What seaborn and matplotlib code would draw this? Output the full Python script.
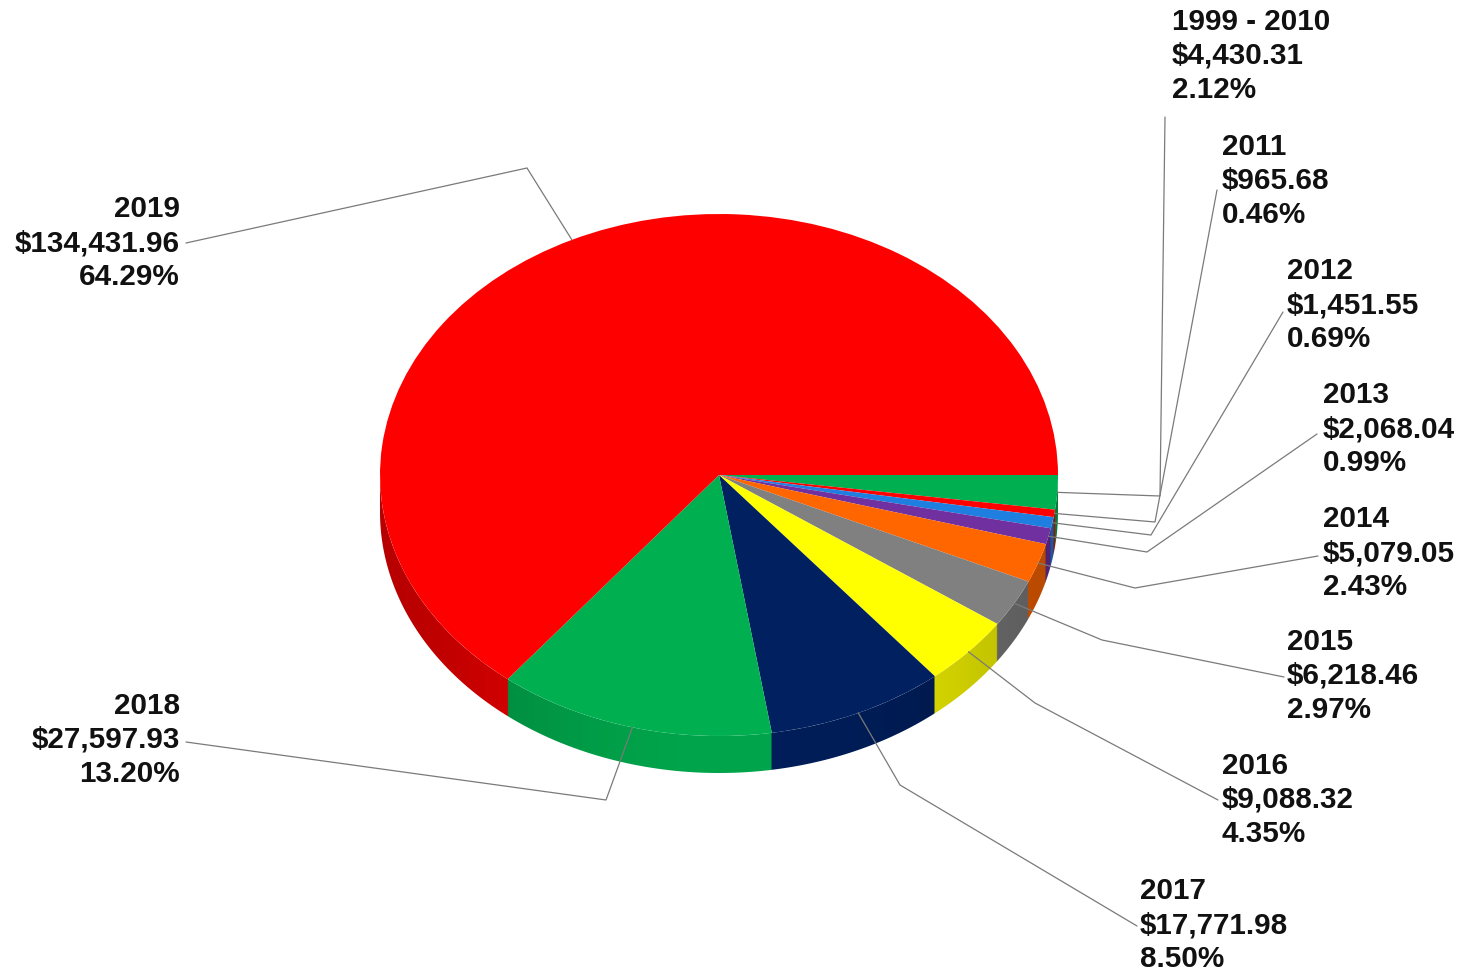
import numpy as np
import matplotlib
matplotlib.use("Agg")
import matplotlib.pyplot as plt
import seaborn as sns
from matplotlib.patches import Polygon
from matplotlib.colors import to_rgb

# ---- data -------------------------------------------------------------
periods = ["1999 - 2010", "2011", "2012", "2013", "2014",
           "2015", "2016", "2017", "2018", "2019"]
amounts = [4430.31, 965.68, 1451.55, 2068.04, 5079.05,
           6218.46, 9088.32, 17771.98, 27597.93, 134431.96]
shares = [2.12, 0.46, 0.69, 0.99, 2.43, 2.97, 4.35, 8.50, 13.20, 64.29]
slice_colors = ["#00B050", "#FF0000", "#1F7FE0", "#7030A0", "#FF6600",
                "#808080", "#FFFF00", "#002060", "#00B050", "#FF0000"]

# ---- layout (pixel space, y measured from the top) ---------------------
W, H = 1462, 974
CX, CY = 719, 475          # centre of the pie's top face
RX, RY = 339, 261          # radii of the tilted top face
DEPTH = 37                 # thickness of the disc
SQ = RY / RX

label_pos = [(1172, 56), (1222, 181), (1287, 305), (1323, 429), (1323, 553),
             (1287, 676), (1222, 800), (1140, 925), (180, 740), (180, 243)]
label_ha = ["left"] * 8 + ["right"] * 2
elbows = [(1160, 496), (1155, 522), (1151, 535), (1147, 552), (1135, 588),
          (1102, 640), (1035, 703), (900, 785), (606, 800), (527, 168)]
line_ends = [(1165, 117), (1217, 190), (1283, 312), (1317, 434), (1318, 556),
             (1284, 677), (1218, 800), (1137, 926), (186, 742), (186, 243)]

sns.set_theme(style="white")
plt.rcParams["font.family"] = ["Liberation Sans", "DejaVu Sans"]

fig = plt.figure(figsize=(W / 100, H / 100), dpi=100)
fig.patch.set_facecolor("white")
ax = fig.add_axes([0, 0, 1, 1])


def to_data(px, py):
    """Pixel position (y down) -> data coordinates of the squashed axes."""
    return px, (H - py) / SQ


cx_d, cy_d = to_data(CX, CY)
palette = sns.color_palette(slice_colors)

# top face of the disc
wedges, _ = ax.pie(amounts, colors=palette, startangle=0, counterclock=False,
                   radius=RX, center=(cx_d, cy_d),
                   wedgeprops=dict(linewidth=0))
for w in wedges:
    w.set_zorder(3)

# ---- side wall: front half of the rim (math angle -180..0) ------------
frac = np.asarray(amounts) / np.sum(amounts)
cum = np.concatenate([[0.0], np.cumsum(frac)])
depth_d = DEPTH / SQ


def shade(t_deg):
    c = np.clip(np.cos(np.radians(t_deg + 88)), 0, None)
    return 0.72 + 0.22 * c ** 3


# colour of every pixel column of the wall, from the slice it belongs to
x0, x1 = CX - RX, CX + RX
ncol = int(x1 - x0) * 2
xs = np.linspace(x0, x1, ncol)
t_cols = -np.degrees(np.arccos(np.clip((xs - CX) / RX, -1, 1)))   # -180..0
cw = (-t_cols) / 360.0                                            # clockwise fraction
idx = np.clip(np.searchsorted(cum, cw, side="right") - 1, 0, len(amounts) - 1)
base = np.array([to_rgb(c) for c in palette])
col_rgb = np.clip(base[idx] * shade(t_cols)[:, None], 0, 1)
img = np.repeat(col_rgb[None, :, :], 4, axis=0)

y_lo = cy_d - RX - depth_d
y_hi = cy_d
im = ax.imshow(img, extent=(x0, x1, y_lo, y_hi), origin="upper",
               aspect="auto", interpolation="bilinear", zorder=2)

ts = np.radians(np.linspace(-180, 0, 721))
top_arc = np.column_stack([cx_d + RX * np.cos(ts), cy_d + RX * np.sin(ts)])
bot_arc = top_arc[::-1] - np.array([0, depth_d])
wall = Polygon(np.vstack([top_arc, bot_arc]), closed=True,
               facecolor="none", edgecolor="none", transform=ax.transData)
ax.add_patch(wall)
im.set_clip_path(wall)

ax.set_xlim(0, W)
ax.set_ylim(0, H / SQ)
ax.set_aspect("auto")
ax.axis("off")

# ---- leader lines from the middle of each slice's rim to its label -----
for i in range(len(periods)):
    mid = -360.0 * 0.5 * (cum[i] + cum[i + 1])
    r = np.radians(mid)
    anchor = (cx_d + RX * np.cos(r), cy_d + RX * np.sin(r))
    e = to_data(*elbows[i])
    f = to_data(*line_ends[i])
    ax.plot([anchor[0], e[0], f[0]], [anchor[1], e[1], f[1]],
            color="#7a7a7a", linewidth=0.9, zorder=5, solid_joinstyle="miter")

# ---- labels: period, amount, share --------------------------------------
LINE_GAP = 34
for i, name in enumerate(periods):
    x, y = label_pos[i]
    lines = [name, f"${amounts[i]:,.2f}", f"{shares[i]:.2f}%"]
    for k, txt in enumerate(lines):
        yy = y + (k - 1) * LINE_GAP
        fig.text(x / W, 1 - yy / H, txt, ha=label_ha[i], va="center",
                 fontsize=21.3, fontweight="bold", color="#111111")

fig.savefig("out.png", dpi=100, facecolor="white")
